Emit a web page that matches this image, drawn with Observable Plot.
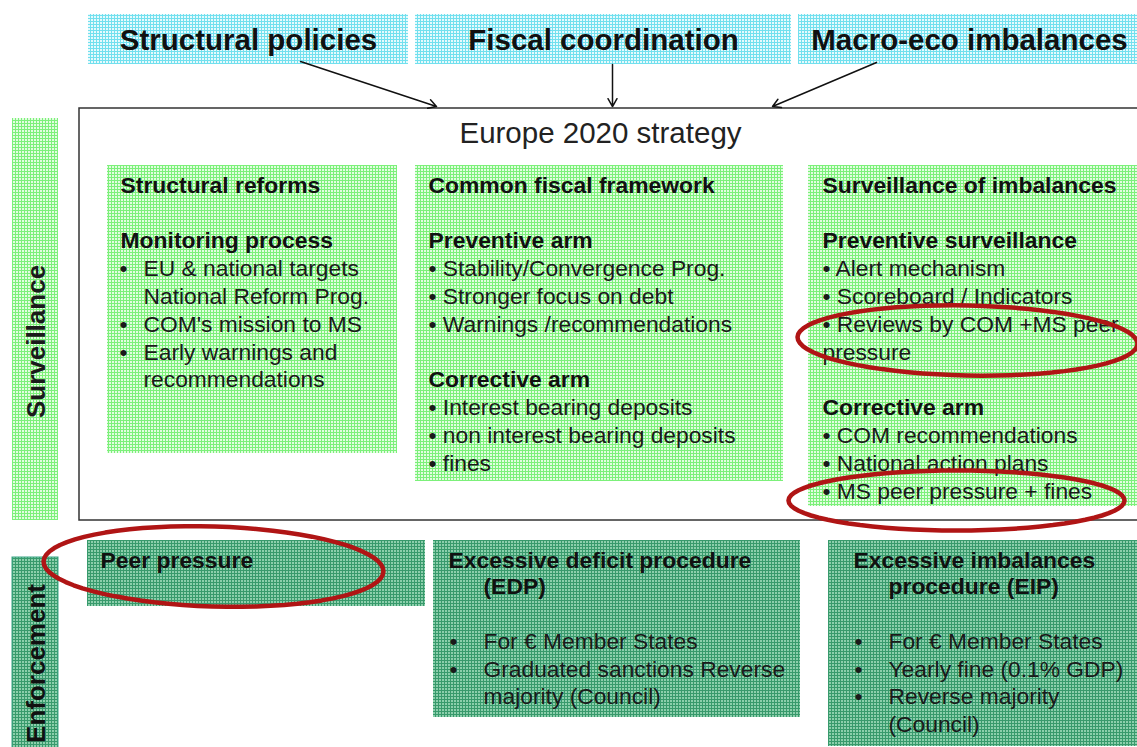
<!DOCTYPE html>
<html><head><meta charset="utf-8">
<script src="https://cdn.jsdelivr.net/npm/d3@7"></script>
<script src="https://cdn.jsdelivr.net/npm/@observablehq/plot@0.6"></script>
<style>html,body{margin:0;padding:0;background:#fff;overflow:hidden}</style>
</head><body><div id="chart"></div>
<script>
// ---- content ----
const topLabels = ["Structural policies", "Fiscal coordination", "Macro-eco imbalances"];
const centralTitle = "Europe 2020 strategy";
const sideLabels = ["Surveillance", "Enforcement"];

const box1Lines = ["Structural reforms", "", "Monitoring process", "EU & national targets", "National Reform Prog.", "COM's mission to MS", "Early warnings and", "recommendations"];
const box1Bold = [true, false, true, false, false, false, false, false];
const box1Bullet = [false, false, false, true, false, true, true, false];

const box2Lines = ["Common fiscal framework", "", "Preventive arm", "• Stability/Convergence Prog.", "• Stronger focus on debt", "• Warnings /recommendations", "", "Corrective arm", "• Interest bearing deposits", "• non interest bearing deposits", "• fines"];
const box2Bold = [true, false, true, false, false, false, false, true, false, false, false];

const box3Lines = ["Surveillance of imbalances", "", "Preventive surveillance", "• Alert mechanism", "• Scoreboard / Indicators", "• Reviews by COM +MS peer", "pressure", "", "Corrective arm", "• COM recommendations", "• National action plans", "• MS peer pressure + fines"];
const box3Bold = [true, false, true, false, false, false, false, false, true, false, false, false];

const peerLabel = "Peer pressure";
const edpHead = ["Excessive deficit procedure", "(EDP)"];
const edpLines = ["For € Member States", "Graduated sanctions Reverse", "majority (Council)"];
const edpBullet = [true, true, false];
const eipHead = ["Excessive imbalances", "procedure (EIP)"];
const eipLines = ["For € Member States", "Yearly fine (0.1% GDP)", "Reverse majority", "(Council)"];
const eipBullet = [true, true, true, false];

// ---- layout (pixel-space scale domain) ----
const W = 1137, H = 747;
const LH = 27.8;
const topBoxes = [[88, 408], [415, 791], [798, 1140]].map(([a, b], i) => ({x1: a, x2: b, y1: 14, y2: 64, label: topLabels[i], cx: (a + b) / 2}));
const arrows = [
  {x1: 300, y1: 61, x2: 436, y2: 106},
  {x1: 612, y1: 64, x2: 612, y2: 106},
  {x1: 876, y1: 62, x2: 772, y2: 106}
];
const lightBoxes = [
  {x1: 12, x2: 58, y1: 118, y2: 520},
  {x1: 107, x2: 397, y1: 165, y2: 453},
  {x1: 415, x2: 783, y1: 165, y2: 481},
  {x1: 808, x2: 1140, y1: 165, y2: 506}
];
const darkBoxes = [
  {x1: 12, x2: 58, y1: 557, y2: 750},
  {x1: 87, x2: 425, y1: 540, y2: 606},
  {x1: 433, x2: 800, y1: 540, y2: 717},
  {x1: 828, x2: 1140, y1: 540, y2: 746}
];

function lines(arr, x, y0, opts = {}) {
  return arr.map((t, i) => ({t, x: x, y: y0 + i * LH, bold: opts.bold ? opts.bold[i] : false, bullet: opts.bullet ? opts.bullet[i] : false}));
}
const body = [
  ...lines(box1Lines, 120, 185, {bold: box1Bold, bullet: box1Bullet}).map(d => ({...d, x: (d.bold ? 120 : 143)})),
  ...lines(box2Lines, 428, 185, {bold: box2Bold}),
  ...lines(box3Lines, 822, 185, {bold: box3Bold}),
  ...lines(edpLines, 483, 641, {bullet: edpBullet}),
  ...lines(eipLines, 888, 641, {bullet: eipBullet})
].filter(d => d.t !== "");
const bullets = [
  ...lines(box1Lines, 119, 185, {bullet: box1Bullet}),
  ...lines(edpLines, 449, 641, {bullet: edpBullet}),
  ...lines(eipLines, 854, 641, {bullet: eipBullet})
].filter(d => d.bullet);
const heads = [
  {t: peerLabel, x: 100, y: 560},
  {t: edpHead[0], x: 448, y: 560},
  {t: edpHead[1], x: 483, y: 586},
  {t: eipHead[0], x: 853, y: 560},
  {t: eipHead[1], x: 888, y: 586}
];
const ellipseSpecs = [
  {cx: 967, cy: 340, rx: 170, ry: 35, a: 0.02},
  {cx: 956, cy: 500, rx: 168, ry: 30, a: 0.0},
  {cx: 213, cy: 566, rx: 170, ry: 40, a: 0.03}
];
const ellipsePts = ellipseSpecs.flatMap((e, k) => d3.range(0, 73).map(i => {
  const t = i / 72 * 2 * Math.PI;
  const px = e.rx * Math.cos(t), py = e.ry * Math.sin(t);
  return {k, x: e.cx + px * Math.cos(e.a) - py * Math.sin(e.a), y: e.cy + px * Math.sin(e.a) + py * Math.cos(e.a)};
}));

const font = "Liberation Sans, Arial, sans-serif";
const BODY = 22.8, BOLD = 22.9;
const plot = Plot.plot({
  width: W, height: H,
  margin: 0,
  x: {domain: [0, W], range: [0, W], axis: null},
  y: {domain: [0, H], range: [0, H], axis: null},
  style: {fontFamily: font, background: "#fff"},
  marks: [
    Plot.rect(topBoxes, {x1: "x1", x2: "x2", y1: "y1", y2: "y2", fill: "url(#pCyan)"}),
    Plot.text(topBoxes, {x: "cx", y: 40, text: "label", fontSize: 29.5, fontWeight: "bold", fill: "#111"}),
    Plot.rect([{x1: 79, x2: 1145, y1: 108, y2: 520}], {x1: "x1", x2: "x2", y1: "y1", y2: "y2", fill: "#fff", stroke: "#333", strokeWidth: 1.5}),
    Plot.arrow(arrows, {x1: "x1", y1: "y1", x2: "x2", y2: "y2", stroke: "#111", strokeWidth: 1.5, headLength: 9, bend: 0}),
    Plot.text([centralTitle], {x: 600, y: 133, text: d => d, fontSize: 29.5, fill: "#222"}),
    Plot.rect(lightBoxes, {x1: "x1", x2: "x2", y1: "y1", y2: "y2", fill: "url(#pLight)"}),
    Plot.rect(darkBoxes, {x1: "x1", x2: "x2", y1: "y1", y2: "y2", fill: "url(#pDark)"}),
    Plot.rect([darkBoxes[0]], {x1: "x1", x2: "x2", y1: "y1", y2: "y2", fill: "none", stroke: "#3aa585", strokeWidth: 1}),
    Plot.text([sideLabels[0]], {x: 36, y: 341, text: d => d, rotate: -90, fontSize: 26, fontWeight: "bold", fill: "#1a1a1a"}),
    Plot.text([sideLabels[1]], {x: 36, y: 663, text: d => d, rotate: -90, fontSize: 26, fontWeight: "bold", fill: "#111"}),
    Plot.text(body.filter(d => !d.bold), {x: "x", y: "y", text: "t", textAnchor: "start", fontSize: BODY, fill: "#1a1a1a"}),
    Plot.text(body.filter(d => d.bold), {x: "x", y: "y", text: "t", textAnchor: "start", fontSize: BOLD, fontWeight: "bold", fill: "#111"}),
    Plot.text(bullets, {x: "x", y: "y", text: () => "•", textAnchor: "start", fontSize: BODY, fill: "#1a1a1a"}),
    Plot.text(heads, {x: "x", y: "y", text: "t", textAnchor: "start", fontSize: BOLD, fontWeight: "bold", fill: "#111"}),
    Plot.line(ellipsePts, {x: "x", y: "y", z: "k", stroke: "#b01515", strokeWidth: 4.5, curve: "linear-closed"})
  ]
});
const defs = `<defs>
<pattern id="pCyan" width="3" height="3" patternUnits="userSpaceOnUse"><rect width="3" height="3" fill="#e6fafd"/><rect width="1" height="3" fill="#72e0ee"/><rect width="3" height="1" fill="#72e0ee"/></pattern>
<pattern id="pLight" width="3" height="3" patternUnits="userSpaceOnUse"><rect width="3" height="3" fill="#e2fde0"/><rect width="1" height="3" fill="#7cf07a"/><rect width="3" height="1" fill="#7cf07a"/></pattern>
<pattern id="pDark" width="3" height="3" patternUnits="userSpaceOnUse"><rect width="3" height="3" fill="#8ccfac"/><rect width="1" height="3" fill="#389a6c"/><rect width="3" height="1" fill="#389a6c"/></pattern>
</defs>`;
plot.insertAdjacentHTML("afterbegin", defs);
document.getElementById("chart").appendChild(plot);
</script></body></html>
